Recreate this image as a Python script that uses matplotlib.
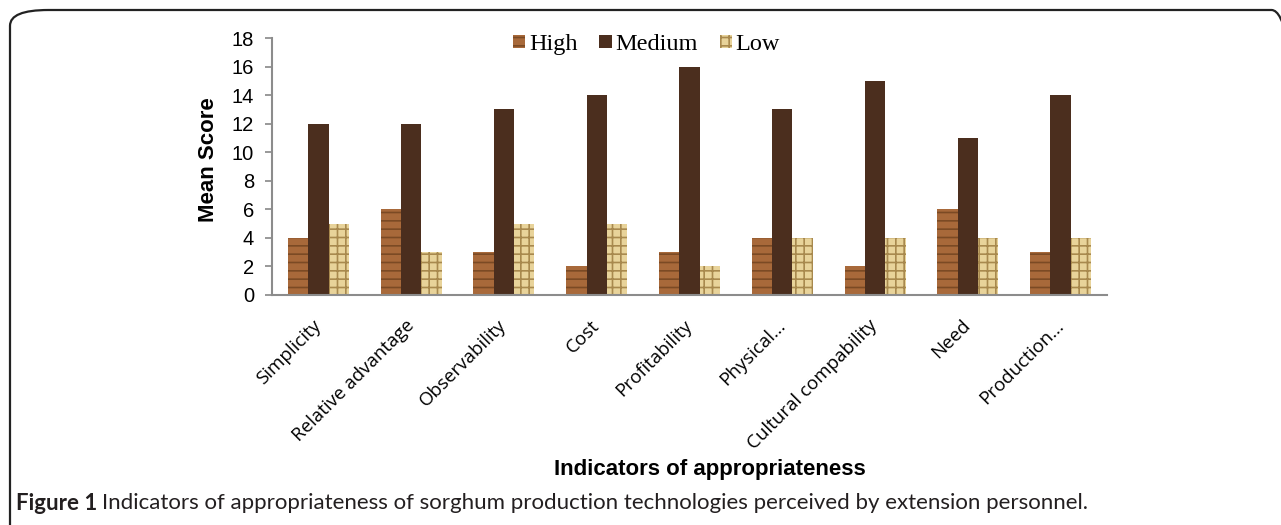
import matplotlib.pyplot as plt
from matplotlib.patches import FancyBboxPatch
import numpy as np

# dati
categories = ['Simplicity', 'Relative advantage', 'Observability', 'Cost', 'Profitability',
              'Physical...', 'Cultural compability', 'Need', 'Production...']
high = [4, 6, 3, 2, 3, 4, 2, 6, 3]
medium = [12, 12, 13, 14, 16, 13, 15, 11, 14]
low = [5, 3, 5, 5, 2, 4, 4, 4, 4]

plt.rcParams['hatch.linewidth'] = 1.2

W, H = 1281, 525
fig = plt.figure(figsize=(W / 100, H / 100), dpi=100)
ax = fig.add_axes([272 / W, 1 - 295 / H, 835 / W, 257 / H])

# cornice arrotondata attorno alla figura
box = FancyBboxPatch((10 / W, -30 / H), 1300 / W, 545 / H,
                     boxstyle='round,pad=0,rounding_size=0.03',
                     transform=fig.transFigure, facecolor='none',
                     edgecolor='#222222', linewidth=1.6, zorder=0)
fig.patches.append(box)

x = np.arange(len(categories))
w = 0.219
ax.bar(x - w, high, w, color='#a8693a', edgecolor='#7b4a24', hatch='--', linewidth=0, label='High')
ax.bar(x, medium, w, color='#4b2e1e', edgecolor='#6a4a35', hatch='', linewidth=0, label='Medium')
ax.bar(x + w, low, w, color='#e8d39a', edgecolor='#a8894e', hatch='++', linewidth=0, label='Low')

ax.set_xlim(-0.5, len(categories) - 0.5)
ax.set_ylim(0, 18)
ax.set_yticks(range(0, 19, 2))
ax.tick_params(axis='y', labelsize=14.5, colors='#888888', labelcolor='black', length=5, width=1.2, pad=8)
for t in ax.get_yticklabels():
    t.set_family('Liberation Sans')
ax.tick_params(axis='x', length=0, pad=20)
ax.set_xticks(x)
ax.set_xticklabels(categories, rotation=45, ha='right', va='center', rotation_mode='anchor',
                   fontsize=13.5, family='Open Sans')

for s in ['top', 'right']:
    ax.spines[s].set_visible(False)
for s in ['left', 'bottom']:
    ax.spines[s].set_color('#8c8c8c')
    ax.spines[s].set_linewidth(1.5)

fig.text(208 / W, 1 - 160 / H, 'Mean Score', fontsize=16, fontweight='bold', family='Liberation Sans',
         rotation=90, ha='center', va='center')
fig.text(710 / W, 1 - 470 / H, 'Indicators of appropriateness', fontsize=16, fontweight='bold',
         family='Liberation Sans', ha='center', va='center')

ax.legend(loc='upper center', bbox_to_anchor=(0.4485, 1.1), ncol=3, frameon=False,
          prop={'family': 'Liberation Serif', 'size': 17.5}, handlelength=0.5, handleheight=0.5,
          handletextpad=0.15, columnspacing=0.9)

# didascalia: "Figure 1" in grassetto, poi il resto subito dopo
cap_y = 1 - 503 / H
cap_size = 16
t1 = fig.text(16 / W, cap_y, 'Figure 1', fontsize=cap_size, fontweight='bold', family='Lato',
              color='#231f20', ha='left', va='center')
fig.canvas.draw()
bb = t1.get_window_extent()
t2 = fig.text((bb.x1 + 5) / W, cap_y,
              'Indicators of appropriateness of sorghum production technologies perceived by extension personnel.',
              fontsize=cap_size, family='Lato', color='#231f20', ha='left', va='center')

fig.savefig('out.png', dpi=100)
